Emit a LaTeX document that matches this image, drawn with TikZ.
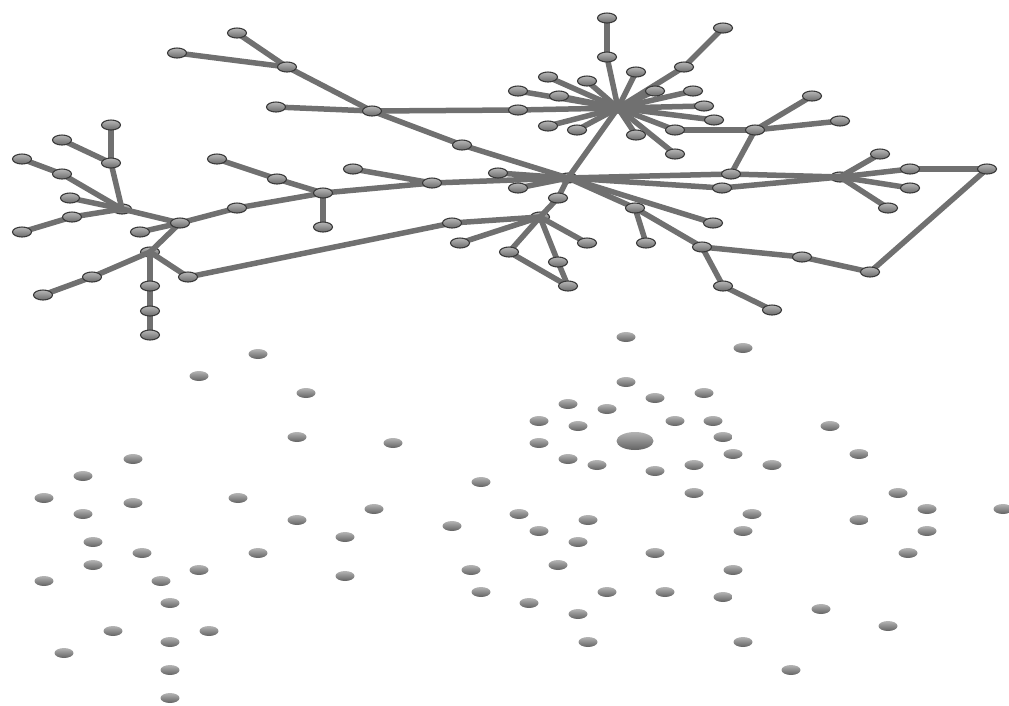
\documentclass[tikz,border=0pt]{standalone}
\usepackage{tikz}
\usetikzlibrary{shapes.geometric, backgrounds}
\definecolor{vtxline}{HTML}{3A3A3A}
\definecolor{vtxtop}{HTML}{B8B8B8}
\definecolor{vtxbot}{HTML}{6A6A6A}
\definecolor{lonetop}{HTML}{B4B4B4}
\definecolor{lonebot}{HTML}{626262}
\definecolor{linkgray}{HTML}{707070}
\tikzset{
  vtx/.style  = {ellipse, draw=vtxline, line width=1.1pt, top color=vtxtop, bottom color=vtxbot,
                 minimum width=19pt, minimum height=10pt, inner sep=0pt},
  lone/.style = {ellipse, top color=lonetop, bottom color=lonebot,
                 minimum width=19pt, minimum height=10pt, inner sep=0pt},
  bigone/.style={lone, minimum width=37pt, minimum height=18pt},
  link/.style = {line width=5.5pt, draw=linkgray},
}
\begin{document}
\begin{tikzpicture}[x=1pt, y=-1pt]
  \useasboundingbox (0,0) rectangle (1009,705);
  \foreach \nm/\x/\y in {
    a1/111/125, a2/111/163, a3/62/140, a4/22/159, a5/62/174, a6/70/198, a7/72/217, a8/22/232,
    b1/180/223, b2/140/232, b4/92/277, b5/43/295, b6/188/277,
    b7/150/286, b8/150/311, b9/150/335, c1/237/208, c2/217/159, c3/277/179, c4/323/193, c5/323/227,
    e1/237/33, e2/177/53, e3/287/67, e4/276/107, e5/372/111, e6/462/145, e7/353/169, e8/432/183,
    f1/607/18, f2/607/57, f3/723/28, f4/684/67, f5/636/72, f6/548/77, f7/587/81, f8/518/91,
    f9/559/96, f10/655/91, f11/693/91, f12/518/110, f13/704/106, f14/714/120,
    f15/548/126, f16/577/130, f17/636/135, f18/675/130, f19/675/154,
    g1/755/130, g2/731/174, g3/812/96, g4/840/121, g5/722/188,
    h5/880/154, h6/910/169, h7/987/169, h8/910/188, h9/888/208,
    i1/713/223, i2/702/247, i3/802/257, i4/870/272, i5/723/286, i6/772/310,
    j1/635/208, j2/646/243, k1/498/173, k2/518/188, k3/558/198, d1/452/223,
    k5/460/243, k6/587/243, k7/509/252, k8/558/262, k9/568/286}{
    \node[vtx] (\nm) at (\x,\y) {};
  }
  \begin{scope}[on background layer]
    \foreach \nm/\x/\y in {h1/122/209, b3/150/252, hb/618/108, hc/568/178, h4/840/177, k4/540/217}{
      \node[vtx] (\nm) at (\x,\y) {};
    }
    \foreach \a/\b in {a1/a2, a3/a2, a2/h1, a4/a5, a5/h1, a6/h1, a8/a7, a7/h1, h1/b1, b2/b1,
      b1/b3, b3/b4, b4/b5, b3/b6, b3/b7, b7/b8, b8/b9, b1/c1, c1/c4, c2/c3, c3/c4, c4/c5,
      b6/d1, d1/k4, c4/e8, e7/e8, e8/hc, e1/e3, e2/e3, e3/e5, e4/e5, e5/e6, e6/hc, e5/f12,
      f12/hb, f1/f2, f2/hb, f3/f4, f4/hb, f5/hb, f6/hb, f7/hb, f8/hb, f9/hb, f10/hb, f11/hb,
      f13/hb, f14/hb, f15/hb, f16/hb, f17/hb, f18/hb, f19/hb, f18/g1, g1/g3, g1/g4, g1/g2,
      hb/hc, hc/g2, hc/g5, g2/h4, g5/h4, h4/h5, h4/h6, h4/h8, h4/h9, h6/h7, h7/i4, i4/i3,
      i3/i2, i2/i5, i5/i6, hc/j1, j1/i2, hc/i1, j1/j2, hc/k1, hc/k2, hc/k3, k3/k4, k4/k5,
      k4/k6, k4/k7, k4/k8, k8/k9, k7/k9}{\draw[link] (\a.center) -- (\b.center);}
  \end{scope}
  \foreach \x/\y [count=\i] in {
    626/337, 743/348, 258/354, 199/376, 626/382, 306/393, 704/393, 568/404, 607/409, 655/398,
    539/421, 578/426, 675/421, 713/421, 830/426, 297/437, 393/443, 539/443, 723/437, 733/454,
    859/454, 133/459, 568/459, 597/465, 655/471, 694/465, 772/465, 83/476, 481/482, 44/498,
    238/498, 133/503, 694/493, 898/493, 83/514, 374/509, 519/514, 297/520, 452/526, 588/520,
    752/514, 859/520, 927/509, 1003/509, 539/531, 743/531, 927/531, 93/542, 345/537, 578/542,
    142/553, 258/553, 655/553, 908/553, 93/565, 558/565, 199/570, 471/570, 733/570, 44/581,
    161/581, 345/576, 481/592, 607/592, 665/592, 723/597, 170/603, 529/603, 821/609, 578/614,
    113/631, 209/631, 888/626, 64/653, 170/642, 588/642, 743/642, 170/670, 791/670, 170/698}{
    \node[lone] (s\i) at (\x,\y) {};
  }
  \node[bigone] (s0) at (635,441) {};
\end{tikzpicture}
\end{document}
